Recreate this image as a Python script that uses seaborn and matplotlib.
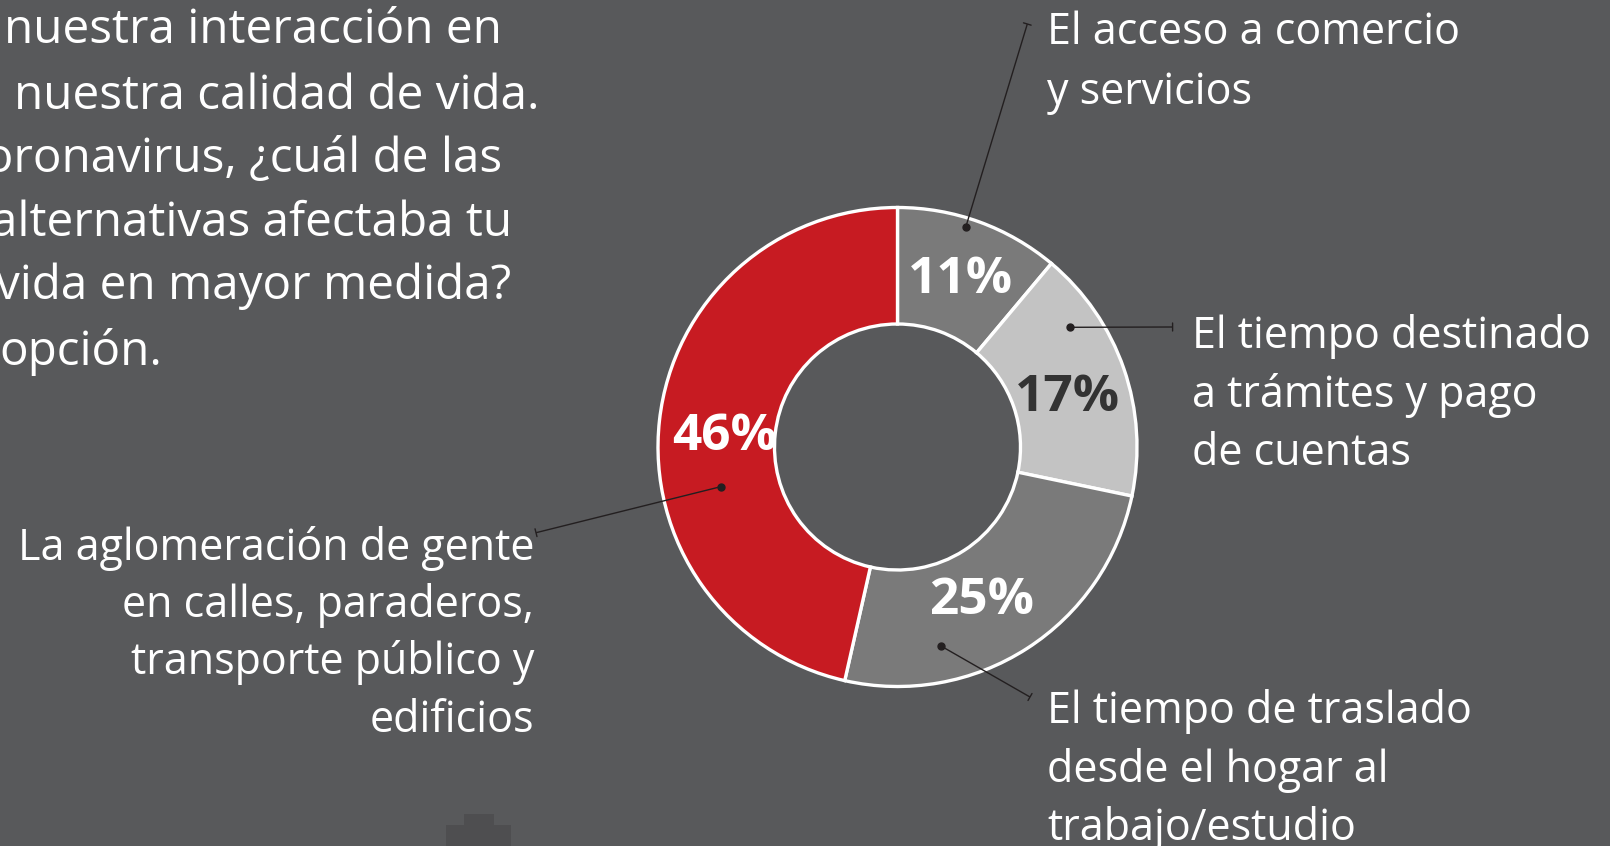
import matplotlib
matplotlib.use("Agg")
import matplotlib.pyplot as plt
from matplotlib.patches import Rectangle
import numpy as np
import seaborn as sns

# --- datos ---
categorias = [
    "El acceso a comercio\ny servicios",
    "El tiempo destinado\na trámites y pago\nde cuentas",
    "El tiempo de traslado\ndesde el hogar al\ntrabajo/estudio",
    "La aglomeración de gente\nen calles, paraderos,\ntransporte público y\nedificios",
]
porcentajes = [11, 17, 25, 46]
colores = ["#7a7a7a", "#c3c3c3", "#7a7a7a", "#c71b22"]
color_pct = ["white", "#333333", "white", "white"]

pregunta = [
    "nuestra interacción en",
    "nuestra calidad de vida.",
    "coronavirus, ¿cuál de las",
    "alternativas afectaba tu",
    "vida en mayor medida?",
    "opción.",
]

# --- layout (pixeles, y hacia abajo) ---
W, H = 1610, 846
FONDO = "#58595b"
LINEA = "#231f20"

pregunta_x = [4, 14, -38, -9, -4, -1]
pregunta_y = [43, 109, 172, 236, 299, 365]

etiqueta_x = [1047, 1192, 1047, 534]
etiqueta_ha = ["left", "left", "left", "right"]
etiqueta_y = [[44, 104], [348, 407, 465], [723, 782, 840], [560, 617, 674, 732]]

# posicion radial (fraccion del radio) y giro (grados) de cada porcentaje
pct_radio = [0.77, 0.745, 0.71, 0.725]
pct_giro = [0, -1, -3, 1]

# guias: punto en el anillo -> extremo junto al texto
guias = [((965.7, 227.3), (1027.3, 24)),
         ((1070, 327.3), (1172.6, 327)),
         ((941, 646), (1030, 697)),
         ((720.7, 486.7), (536, 532.7))]

sns.set_theme(style="dark", rc={"axes.facecolor": FONDO,
                                "figure.facecolor": FONDO,
                                "savefig.facecolor": FONDO})
plt.rcParams["font.family"] = ["Open Sans", "DejaVu Sans"]

fig = plt.figure(figsize=(W / 100, H / 100), dpi=100)
ax = fig.add_axes([0, 0, 1, 1])

# decoracion inferior
ax.add_patch(Rectangle((446, H - 846), 65, 21, color="#4e4e50", lw=0, zorder=0))
ax.add_patch(Rectangle((464, H - 825), 30, 11, color="#4e4e50", lw=0, zorder=0))

cx, cy = 897.5, H - 447
R = 239.5
wedges, _ = ax.pie(porcentajes, colors=colores, startangle=90, counterclock=False,
                   radius=R, center=(cx, cy),
                   wedgeprops=dict(width=116.5, edgecolor="white", linewidth=2.4))

# porcentajes dentro del anillo
for w, p, col, fr, giro in zip(wedges, porcentajes, color_pct, pct_radio, pct_giro):
    ang = np.deg2rad((w.theta1 + w.theta2) / 2 + giro)
    r = R * fr
    ax.text(cx + r * np.cos(ang), cy + r * np.sin(ang), f"{p}%",
            ha="center", va="center_baseline", fontsize=37, fontweight="bold", color=col)

# lineas guia
for (x0, y0), (x1, y1) in guias:
    y0, y1 = H - y0, H - y1
    ax.plot([x0, x1], [y0, y1], color=LINEA, lw=1.0, solid_capstyle="butt", zorder=5)
    ax.plot(x0, y0, "o", color=LINEA, ms=5, zorder=5)
    dx, dy = x1 - x0, y1 - y0
    n = np.hypot(dx, dy)
    px, py = -dy / n * 4, dx / n * 4
    ax.plot([x1 - px, x1 + px], [y1 - py, y1 + py], color=LINEA, lw=1.0, zorder=5)

# etiquetas de categorias
for cat, x, ha, ys in zip(categorias, etiqueta_x, etiqueta_ha, etiqueta_y):
    for linea, y in zip(cat.split("\n"), ys):
        ax.text(x, H - y, linea, ha=ha, va="baseline", fontsize=31, color="white")

# texto de la pregunta (cortado a la izquierda)
for linea, x, y in zip(pregunta, pregunta_x, pregunta_y):
    ax.text(x, H - y, linea, ha="left", va="baseline", fontsize=34.3, color="white")

ax.set_xlim(0, W)
ax.set_ylim(0, H)
ax.axis("off")

fig.savefig("out.png", dpi=100, facecolor=FONDO)
